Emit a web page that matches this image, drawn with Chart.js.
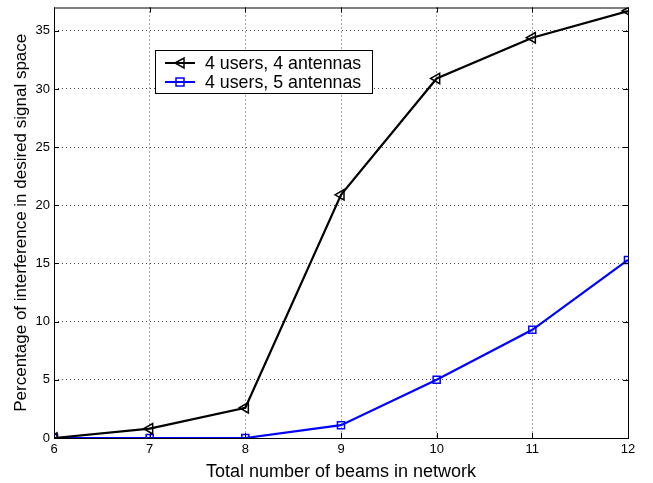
<!DOCTYPE html>
<html><head><meta charset="utf-8">
<script src="https://cdn.jsdelivr.net/npm/chart.js@4/dist/chart.umd.min.js"></script>
<style>html,body{margin:0;padding:0;background:#fff}#wrap{width:653px;height:483px;position:relative}</style>
</head><body><div id="wrap"><canvas id="c" width="653" height="483"></canvas></div>
<script>
const beams = [6, 7, 8, 9, 10, 11, 12];
const users4ant4 = [0, 0.8, 2.6, 20.9, 30.9, 34.4, 36.7];
const users4ant5 = [0, 0, 0, 1.1, 5.0, 9.3, 15.3];
const xTicks = [6, 7, 8, 9, 10, 11, 12];
const yTicks = [0, 5, 10, 15, 20, 25, 30, 35];
const seriesNames = ['4 users, 4 antennas', '4 users, 5 antennas'];
const xTitle = 'Total number of beams in network';
const yTitle = 'Percentage of interference in desired signal space';

const FONT = 'Liberation Sans, Arial, Helvetica, sans-serif';

const framePlugin = {
  id: 'frame',
  afterDraw(chart) {
    const {ctx, chartArea: a, scales: {x, y}} = chart;
    ctx.save();
    ctx.strokeStyle = '#000';
    ctx.lineWidth = 1;
    ctx.strokeRect(a.left + 0.5, a.top + 0.5, a.right - a.left, a.bottom - a.top);
    // inward ticks
    ctx.beginPath();
    xTicks.forEach(v => {
      const px = Math.round(x.getPixelForValue(v)) + 0.5;
      ctx.moveTo(px, a.bottom); ctx.lineTo(px, a.bottom - 5);
      ctx.moveTo(px, a.top); ctx.lineTo(px, a.top + 5);
    });
    yTicks.forEach(v => {
      const py = Math.round(y.getPixelForValue(v)) + 0.5;
      ctx.moveTo(a.left, py); ctx.lineTo(a.left + 5, py);
      ctx.moveTo(a.right, py); ctx.lineTo(a.right - 5, py);
    });
    ctx.stroke();
    // legend
    const lx = 155, ly = 50, lw = 217, lh = 43;
    ctx.fillStyle = '#fff';
    ctx.fillRect(lx, ly, lw, lh);
    ctx.strokeRect(lx + 0.5, ly + 0.5, lw, lh);
    ctx.font = '17.8px ' + FONT;
    ctx.textBaseline = 'middle';
    const rows = [
      {y: ly + 13, color: '#000', style: 'tri'},
      {y: ly + 32, color: '#0000ff', style: 'sq'}
    ];
    rows.forEach((r, i) => {
      ctx.strokeStyle = r.color; ctx.lineWidth = 2;
      ctx.beginPath(); ctx.moveTo(165, r.y); ctx.lineTo(195, r.y); ctx.stroke();
      const cx = 180;
      ctx.lineWidth = 1.5;
      ctx.beginPath();
      if (r.style === 'tri') {
        ctx.moveTo(cx - 5, r.y); ctx.lineTo(cx + 4, r.y - 5); ctx.lineTo(cx + 4, r.y + 5); ctx.closePath();
      } else {
        ctx.rect(cx - 4, r.y - 4, 8, 8);
      }
      ctx.stroke();
      ctx.fillStyle = '#000';
      ctx.fillText(seriesNames[i], 205, r.y + 1);
    });
    ctx.restore();
  }
};

new Chart(document.getElementById('c'), {
  type: 'line',
  data: {
    datasets: [
      {
        label: seriesNames[0],
        data: beams.map((b, i) => ({x: b, y: users4ant4[i]})),
        borderColor: '#000', backgroundColor: 'rgba(0,0,0,0)',
        borderWidth: 2.2, pointStyle: 'triangle', rotation: -90,
        pointRadius: 6, pointBorderWidth: 1.5, pointBorderColor: '#000',
        pointBackgroundColor: 'rgba(0,0,0,0)', tension: 0
      },
      {
        label: seriesNames[1],
        data: beams.map((b, i) => ({x: b, y: users4ant5[i]})),
        borderColor: '#0000ff', backgroundColor: 'rgba(0,0,0,0)',
        borderWidth: 2.2, pointStyle: 'rect',
        pointRadius: 5, pointBorderWidth: 1.5, pointBorderColor: '#0000ff',
        pointBackgroundColor: 'rgba(0,0,0,0)', tension: 0
      }
    ]
  },
  options: {
    responsive: false, animation: false,
    layout: {padding: {top: 7, right: 25, left: 0, bottom: 0}},
    plugins: {legend: {display: false}, tooltip: {enabled: false}},
    scales: {
      x: {
        type: 'linear', min: 6, max: 12,
        afterFit(s) { s.height = 45; s.paddingLeft = 0; s.paddingRight = 0; },
        afterBuildTicks(s) { s.ticks = xTicks.map(v => ({value: v})); },
        grid: {color: '#444', lineWidth: 1, drawTicks: false},
        border: {display: false, dash: [1, 3]},
        ticks: {color: '#000', font: {family: FONT, size: 13}, padding: 4, maxRotation: 0},
        title: {display: true, text: xTitle, color: '#000', font: {family: FONT, size: 18}, padding: {top: 4, bottom: 0}}
      },
      y: {
        type: 'linear', min: 0, max: 37,
        afterFit(s) { s.width = 54; s.paddingTop = 0; s.paddingBottom = 0; },
        afterBuildTicks(s) { s.ticks = yTicks.map(v => ({value: v})); },
        grid: {color: '#444', lineWidth: 1, drawTicks: false},
        border: {display: false, dash: [1, 3]},
        ticks: {color: '#000', font: {family: FONT, size: 13}, padding: 4},
        title: {display: true, text: yTitle, color: '#000', font: {family: FONT, size: 17}, padding: {top: 11, bottom: 4}}
      }
    }
  },
  plugins: [framePlugin]
});
</script>
</body></html>
